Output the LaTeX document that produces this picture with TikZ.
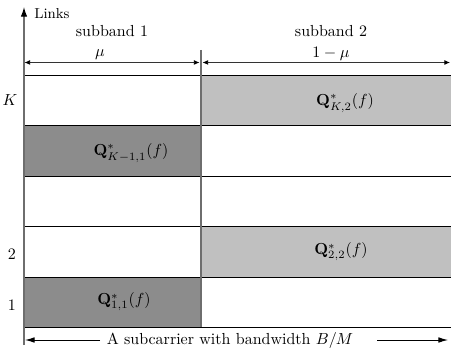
\documentclass[tikz,border=0pt]{standalone}
\usetikzlibrary{arrows.meta}
\definecolor{darkfill}{RGB}{140,140,140}
\definecolor{lightfill}{RGB}{192,192,192}
\definecolor{axisgray}{RGB}{110,110,110}
\begin{document}
\begin{tikzpicture}[x=0.625pt,y=-0.625pt,
  hline/.style={line width=0.55pt, draw=black},
  vline/.style={line width=0.7pt, draw=axisgray},
  dimarrow/.style={line width=0.5pt, draw=black!80, {Latex[length=3.5pt,width=3pt,color=black]}-{Latex[length=3.5pt,width=3pt,color=black]}},
  bigarrow/.style={line width=0.55pt, draw=black, -{Latex[length=6pt,width=3.5pt]}},
  lbl/.style={inner sep=0pt}]
\useasboundingbox (0,0) rectangle (451,350);
% cells
\fill[lightfill] (201,75) rectangle (460,125.5);
\fill[darkfill] (24,125.5) rectangle (201,176);
\fill[lightfill] (201,226.5) rectangle (460,277);
\fill[darkfill] (24,277) rectangle (201,327);
% horizontal lines
\foreach \y in {75,125.5,176,226.5,277,327}
  \draw[hline] (24,\y) -- (451,\y);
% axis and divider
\coordinate (axbot) at (24,345);
\coordinate (axtop) at (24,7);
\coordinate (divtop) at (201,50);
\coordinate (divbot) at (201,327);
\draw[vline, -{Latex[length=6pt,width=4pt,color=black]}] (axbot) -- (axtop);
\draw[vline] (divtop) -- (divbot);
\node[lbl, font=\small, anchor=west] (links) at (34,14) {Links};
% dimension arrows
\coordinate (d1a) at (24.5,62.5);
\coordinate (d1b) at (199.5,62.5);
\coordinate (d2a) at (202.5,62.5);
\coordinate (d2b) at (450,62.5);
\draw[dimarrow] (d1a) -- (d1b);
\draw[dimarrow] (d2a) -- (d2b);
\node[lbl] (mu) at (100,55) {$\mu$};
\node[lbl] (omu) at (331,54) {$1-\mu$};
\node[lbl] (sb1) at (112,31) {subband 1};
\node[lbl] (sb2) at (331,31) {subband 2};
% row labels
\node[lbl] (rK) at (10,100) {$K$};
\node[lbl] (r2) at (12,254) {$2$};
\node[lbl] (r1) at (12,305) {$1$};
% cell labels
\node[lbl] (qK2) at (345,103) {$\mathbf{Q}^*_{K,2}(f)$};
\node[lbl] (qK1) at (131,153) {$\mathbf{Q}^*_{K-1,1}(f)$};
\node[lbl] (q22) at (341,252) {$\mathbf{Q}^*_{2,2}(f)$};
\node[lbl] (q11) at (124,302) {$\mathbf{Q}^*_{1,1}(f)$};
% bottom arrow
\node[lbl] (bw) at (230,340) {A subcarrier with bandwidth $B/M$};
\coordinate (bl) at (25,340);
\coordinate (brs) at (377,340);
\coordinate (br) at (448,340);
\draw[bigarrow] ([xshift=-4pt]bw.west) -- (bl);
\draw[bigarrow] (brs) -- (br);
\end{tikzpicture}
\end{document}
